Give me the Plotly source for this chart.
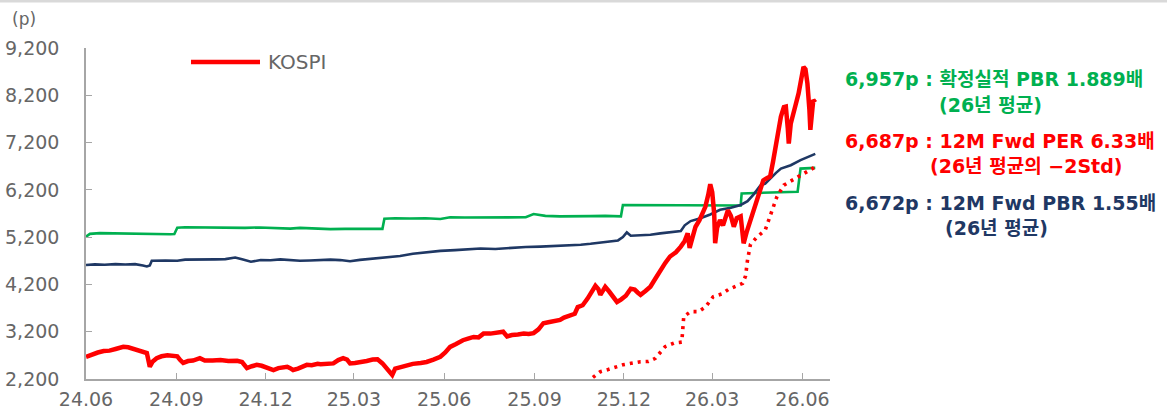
import plotly.graph_objects as go

# ---------------- data ----------------
kospi_dates = [
    "2024-06-01","2024-06-07","2024-06-13","2024-06-19","2024-06-25","2024-07-02","2024-07-09","2024-07-14",
    "2024-07-20","2024-07-26","2024-07-31","2024-08-02","2024-08-05","2024-08-08","2024-08-12","2024-08-17",
    "2024-08-23","2024-08-28","2024-09-02","2024-09-05","2024-09-08","2024-09-13","2024-09-18","2024-09-25",
    "2024-09-30","2024-10-08","2024-10-16","2024-10-24","2024-11-02","2024-11-07","2024-11-12","2024-11-17",
    "2024-11-22","2024-11-27","2024-12-04","2024-12-09","2024-12-14","2024-12-19","2024-12-23","2024-12-26",
    "2024-12-29","2025-01-03","2025-01-08","2025-01-12","2025-01-17","2025-01-23","2025-01-26","2025-02-01",
    "2025-02-08","2025-02-13","2025-02-18","2025-02-22","2025-02-25","2025-03-02","2025-03-07","2025-03-14",
    "2025-03-20","2025-03-25","2025-03-30","2025-04-04","2025-04-07","2025-04-09","2025-04-12","2025-04-17",
    "2025-04-23","2025-04-30","2025-05-08","2025-05-14","2025-05-21","2025-05-28","2025-06-02","2025-06-07",
    "2025-06-13","2025-06-20","2025-06-26","2025-07-01","2025-07-06","2025-07-11","2025-07-18","2025-07-24",
    "2025-07-31","2025-08-04","2025-08-09","2025-08-15","2025-08-21","2025-08-26","2025-08-31","2025-09-05",
    "2025-09-10","2025-09-15","2025-09-22","2025-09-27","2025-10-01","2025-10-07","2025-10-12","2025-10-15",
    "2025-10-20","2025-10-25","2025-10-29","2025-11-02","2025-11-05","2025-11-07","2025-11-10","2025-11-12",
    "2025-11-16","2025-11-20","2025-11-24","2025-11-28","2025-12-03","2025-12-08","2025-12-12","2025-12-15",
    "2025-12-18","2025-12-23","2025-12-28","2026-01-02","2026-01-07","2026-01-12","2026-01-17","2026-01-23",
    "2026-01-28","2026-02-01","2026-02-04","2026-02-06","2026-02-09","2026-02-12","2026-02-16","2026-02-19",
    "2026-02-22","2026-02-25","2026-02-27","2026-03-01","2026-03-03","2026-03-04","2026-03-06","2026-03-09",
    "2026-03-12","2026-03-17","2026-03-20","2026-03-23","2026-03-26","2026-03-30","2026-04-01","2026-04-02",
    "2026-04-05","2026-04-09","2026-04-12","2026-04-16","2026-04-19","2026-04-22","2026-04-26","2026-04-29",
    "2026-05-02","2026-05-06","2026-05-08","2026-05-10","2026-05-13","2026-05-15","2026-05-17","2026-05-18",
    "2026-05-20","2026-05-23","2026-05-25","2026-05-28","2026-05-31","2026-06-02","2026-06-04","2026-06-06",
    "2026-06-08","2026-06-09","2026-06-11","2026-06-12","2026-06-14",
]
kospi_values = [
    2670,2720,2760,2790,2800,2840,2880,2870,
    2830,2780,2770,2750,2460,2570,2640,2680,
    2700,2690,2680,2600,2540,2580,2590,2640,
    2590,2590,2600,2580,2585,2560,2430,2470,
    2500,2480,2440,2390,2430,2440,2460,2430,
    2390,2420,2460,2500,2490,2520,2510,2530,
    2530,2600,2640,2610,2530,2540,2550,2580,
    2610,2615,2530,2390,2330,2285,2420,2450,
    2470,2520,2540,2560,2610,2670,2760,2880,
    2940,3020,3060,3090,3080,3160,3160,3170,
    3200,3100,3130,3140,3160,3150,3170,3250,
    3380,3400,3420,3450,3500,3540,3580,3720,
    3760,3900,4050,4170,4100,3980,4080,4150,
    4050,3940,3830,3880,3960,4110,4090,4030,
    3980,4060,4150,4320,4500,4650,4790,4880,
    5000,5120,5280,4970,5200,5420,5560,5700,
    5840,6100,6320,6150,5700,5070,5400,5560,
    5450,5770,5650,5420,5600,5640,5300,5070,
    5300,5560,5800,6060,6250,6400,6450,6480,
    6800,7300,7450,7750,7950,7960,7500,7180,
    7600,7890,8000,8240,8600,8800,8750,8450,
    7900,7470,7900,8100,8050,
]

pbr_actual_dates = [
    "2024-06-01","2024-06-05","2024-06-15","2024-06-25","2024-07-06","2024-07-16","2024-07-26","2024-08-05",
    "2024-08-15","2024-08-26","2024-08-30","2024-09-02","2024-09-10","2024-09-25","2024-10-11","2024-10-26",
    "2024-11-10","2024-11-25","2024-12-11","2024-12-26","2025-01-05","2025-01-20","2025-02-05","2025-02-20",
    "2025-03-07","2025-03-23","2025-03-30","2025-04-01","2025-04-12","2025-04-27","2025-05-13","2025-05-28",
    "2025-06-07","2025-06-22","2025-07-08","2025-07-23","2025-08-07","2025-08-23","2025-08-31","2025-09-12",
    "2025-09-27","2025-10-13","2025-10-28","2025-11-12","2025-11-25","2025-11-28","2025-11-30","2025-12-18",
    "2026-01-07","2026-01-28","2026-02-17","2026-03-09","2026-03-30","2026-03-31","2026-04-19","2026-05-10",
    "2026-05-27","2026-05-30","2026-06-07","2026-06-14",
]
pbr_actual_values = [
    5210,5270,5285,5280,5290,5275,5270,5265,
    5255,5260,5265,5400,5410,5405,5410,5400,
    5395,5405,5395,5380,5395,5380,5370,5375,
    5370,5380,5375,5590,5600,5595,5600,5585,
    5620,5615,5620,5615,5625,5620,5690,5650,
    5640,5650,5645,5650,5650,5640,5880,5880,
    5875,5870,5865,5870,5870,6125,6135,6150,
    6160,6650,6660,6665,
]

pbr_fwd_dates = [
    "2024-06-01","2024-06-10","2024-06-20","2024-07-01","2024-07-11","2024-07-21","2024-07-29","2024-08-02",
    "2024-08-05","2024-08-07","2024-08-21","2024-09-02","2024-09-10","2024-09-25","2024-10-11","2024-10-21",
    "2024-10-31","2024-11-07","2024-11-16","2024-11-26","2024-12-06","2024-12-16","2024-12-26","2025-01-05",
    "2025-01-15","2025-01-26","2025-02-05","2025-02-15","2025-02-25","2025-03-07","2025-03-18","2025-03-28",
    "2025-04-07","2025-04-17","2025-04-30","2025-05-13","2025-05-28","2025-06-12","2025-06-28","2025-07-08",
    "2025-07-23","2025-08-07","2025-08-23","2025-09-07","2025-09-22","2025-10-07","2025-10-18","2025-10-28",
    "2025-11-07","2025-11-17","2025-11-25","2025-11-30","2025-12-04","2025-12-08","2025-12-18","2025-12-28",
    "2026-01-07","2026-01-17","2026-01-28","2026-02-01","2026-02-07","2026-02-17","2026-02-27","2026-03-09",
    "2026-03-20","2026-03-30","2026-04-06","2026-04-12","2026-04-19","2026-04-24","2026-04-29","2026-05-05",
    "2026-05-10","2026-05-20","2026-05-30","2026-06-07","2026-06-14",
]
pbr_fwd_values = [
    4610,4625,4615,4630,4620,4630,4600,4580,
    4600,4700,4705,4700,4725,4720,4730,4735,
    4770,4730,4680,4715,4710,4730,4710,4700,
    4705,4720,4725,4715,4690,4720,4740,4765,
    4780,4800,4850,4880,4910,4925,4940,4960,
    4950,4975,4990,5000,5010,5035,5040,5060,
    5080,5100,5130,5200,5300,5230,5240,5250,
    5280,5300,5330,5450,5540,5600,5680,5780,
    5820,5880,5960,6100,6290,6330,6440,6560,
    6650,6720,6830,6900,6960,
]

per_std_dates = [
    "2025-10-24","2025-11-07","2025-11-15","2025-11-30","2025-12-18","2025-12-26","2026-01-02","2026-01-10",
    "2026-01-12","2026-01-21","2026-01-29","2026-01-31","2026-02-07","2026-02-15","2026-02-22","2026-03-02",
    "2026-03-11","2026-03-18","2026-04-01","2026-04-04","2026-04-06","2026-04-09","2026-04-16","2026-04-24",
    "2026-05-01","2026-05-06","2026-05-13","2026-05-22","2026-06-03","2026-06-14",
]
per_std_values = [
    2130,2355,2400,2500,2566,2570,2637,2830,
    2883,2960,2980,3520,3624,3624,3720,3940,
    4000,4100,4223,4380,4720,5050,5210,5351,
    5780,6060,6300,6410,6557,6687,
]

y_ticks = [2200, 3200, 4200, 5200, 6200, 7200, 8200, 9200]
x_tick_dates = ["2024-06-01","2024-09-01","2024-12-01","2025-03-01","2025-06-01",
                "2025-09-01","2025-12-01","2026-03-01","2026-06-01"]
x_tick_labels = ["24.06","24.09","24.12","25.03","25.06","25.09","25.12","26.03","26.06"]

# ---------------- figure ----------------
W, H = 1167, 416
L, R, T, B = 86, 337, 48, 37
PW, PH = W - L - R, H - T - B

def px(x):
    return (x - L) / PW

def py(y):
    return (H - B - y) / PH

RED = "#FF0000"
GREEN = "#00B050"
NAVY = "#1F3864"
GRAY = "#666666"
AXIS = "#A6A6A6"
NFONT = "DejaVu Sans"
LFONT = "DejaVu Sans, Noto Sans CJK KR"

fig = go.Figure()
fig.add_trace(go.Scatter(x=pbr_actual_dates, y=pbr_actual_values, mode="lines",
                         line=dict(color=GREEN, width=2.6), name="확정실적 PBR", showlegend=False))
fig.add_trace(go.Scatter(x=pbr_fwd_dates, y=pbr_fwd_values, mode="lines",
                         line=dict(color=NAVY, width=2.6), name="12M Fwd PBR", showlegend=False))
fig.add_trace(go.Scatter(x=per_std_dates, y=per_std_values, mode="lines",
                         line=dict(color=RED, width=3.6, dash="3px,5px"),
                         name="12M Fwd PER -2Std", showlegend=False))
fig.add_trace(go.Scatter(x=kospi_dates, y=kospi_values, mode="lines",
                         line=dict(color=RED, width=4.5), name="KOSPI", showlegend=False))

fig.update_layout(
    width=W, height=H,
    margin=dict(l=L, r=R, t=T, b=B, pad=0, autoexpand=False),
    paper_bgcolor="white", plot_bgcolor="white",
    font=dict(family=NFONT, color=GRAY),
    showlegend=False,
)
fig.update_xaxes(
    type="date", range=["2024-06-01", "2026-06-29"], automargin=False,
    tickvals=x_tick_dates, ticktext=x_tick_labels,
    showgrid=False, zeroline=False, showline=True, linecolor=AXIS, linewidth=1.5,
    ticks="inside", ticklen=6, tickcolor=AXIS, tickwidth=1.2,
    tickfont=dict(size=19, color=GRAY, family=NFONT),
    ticklabelstandoff=2,
)
fig.update_yaxes(
    range=[2200, 9200], tickvals=y_ticks, tickformat=",d", automargin=False,
    showgrid=False, zeroline=False, showline=True, linecolor=AXIS, linewidth=1.5,
    ticks="inside", ticklen=6, tickcolor=AXIS, tickwidth=1.2,
    tickfont=dict(size=19, color=GRAY, family=NFONT),
    ticklabelstandoff=21,
)

shapes = [
    dict(type="line", xref="paper", yref="paper", x0=px(0), x1=px(W), y0=py(1), y1=py(1),
         line=dict(color="#D9D9D9", width=3)),
    dict(type="line", xref="paper", yref="paper", x0=px(191), x1=px(260), y0=py(62), y1=py(62),
         line=dict(color=RED, width=4.5)),
]
fig.update_layout(shapes=shapes)

def ann(x, y, text, color, size=19, anchor="left", family=LFONT, weight="normal"):
    fig.add_annotation(x=px(x), y=py(y), xref="paper", yref="paper", text=text,
                       showarrow=False, xanchor=anchor, yanchor="middle", align="left",
                       font=dict(size=size, color=color, family=family, weight=weight))

ann(10, 19, "(p)", GRAY, size=17, family=NFONT)
ann(266, 62, "KOSPI", GRAY, size=20, family=NFONT)

ann(843, 79, "6,957p : 확정실적 PBR 1.889배", GREEN, weight="bold")
ann(937, 105, "(26년 평균)", GREEN, weight="bold")
ann(843, 141, "6,687p : 12M Fwd PER 6.33배", RED, weight="bold")
ann(928, 166, "(26년 평균의 −2Std)", RED, weight="bold")
ann(843, 203, "6,672p : 12M Fwd PBR 1.55배", NAVY, weight="bold")
ann(943, 228, "(26년 평균)", NAVY, weight="bold")

fig.write_html("out.html", post_script="document.body.style.margin='0';",
               config={"displayModeBar": False})
